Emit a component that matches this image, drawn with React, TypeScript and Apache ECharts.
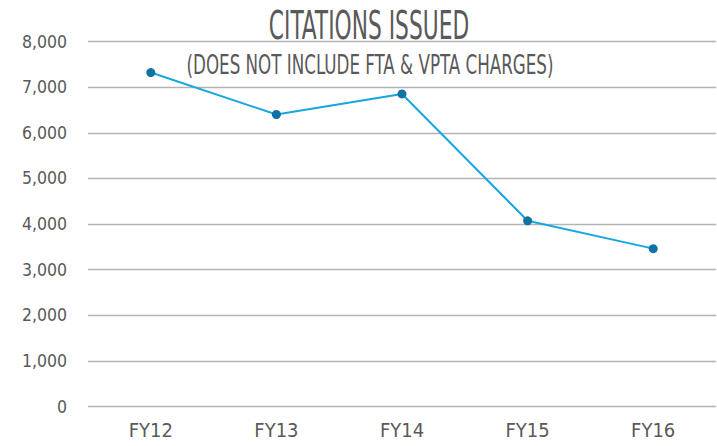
import React, { useEffect, useRef } from "react";
import * as echarts from "echarts";

const categories = ["FY12", "FY13", "FY14", "FY15", "FY16"];
const citations = [7320, 6400, 6850, 4070, 3460];
const titleText = "CITATIONS ISSUED";
const subtitleText = "(DOES NOT INCLUDE FTA & VPTA CHARGES)";

const FONT = "'Liberation Sans Narrow', 'DejaVu Sans Condensed', 'Roboto Condensed', sans-serif";
const TEXT = "#595959";

export default function App() {
  const ref = useRef<HTMLDivElement>(null);
  useEffect(() => {
    if (!ref.current) return;
    const chart = echarts.init(ref.current, null, { renderer: "svg" });
    chart.setOption({
      animation: false,
      backgroundColor: "#ffffff",
      grid: { left: 88, right: 1, top: 41.5, bottom: 39.5, containLabel: false },
      xAxis: {
        type: "category",
        data: categories,
        boundaryGap: true,
        axisLine: { show: false },
        axisTick: { show: false },
        axisLabel: { color: TEXT, fontFamily: FONT, fontSize: 20, margin: 13 },
      },
      yAxis: {
        type: "value",
        min: 0,
        max: 8000,
        interval: 1000,
        axisLine: { show: false },
        axisTick: { show: false },
        splitLine: { lineStyle: { color: "#b3b3b3", width: 1.3 } },
        axisLabel: {
          color: TEXT,
          fontFamily: FONT,
          fontSize: 17.5,
          margin: 21,
          formatter: (v: number) => v.toLocaleString("en-US"),
        },
      },
      series: [
        {
          type: "line",
          data: citations,
          symbol: "circle",
          symbolSize: 9,
          lineStyle: { color: "#19a6df", width: 2 },
          itemStyle: { color: "#0e72a5" },
        },
      ],
      graphic: [
        {
          type: "text",
          x: 369,
          y: 45,
          scaleY: 1.58,
          style: {
            text: titleText,
            fill: TEXT,
            font: `24.2px ${FONT}`,
            textAlign: "center",
            textVerticalAlign: "bottom",
          },
        },
        {
          type: "text",
          x: 370,
          y: 79,
          scaleY: 1.47,
          style: {
            text: subtitleText,
            fill: TEXT,
            font: `18.6px ${FONT}`,
            textAlign: "center",
            textVerticalAlign: "bottom",
          },
        },
      ],
    });
    return () => chart.dispose();
  }, []);
  return <div ref={ref} style={{ width: 717, height: 446, position: "absolute", left: 0, top: 0 }} />;
}
